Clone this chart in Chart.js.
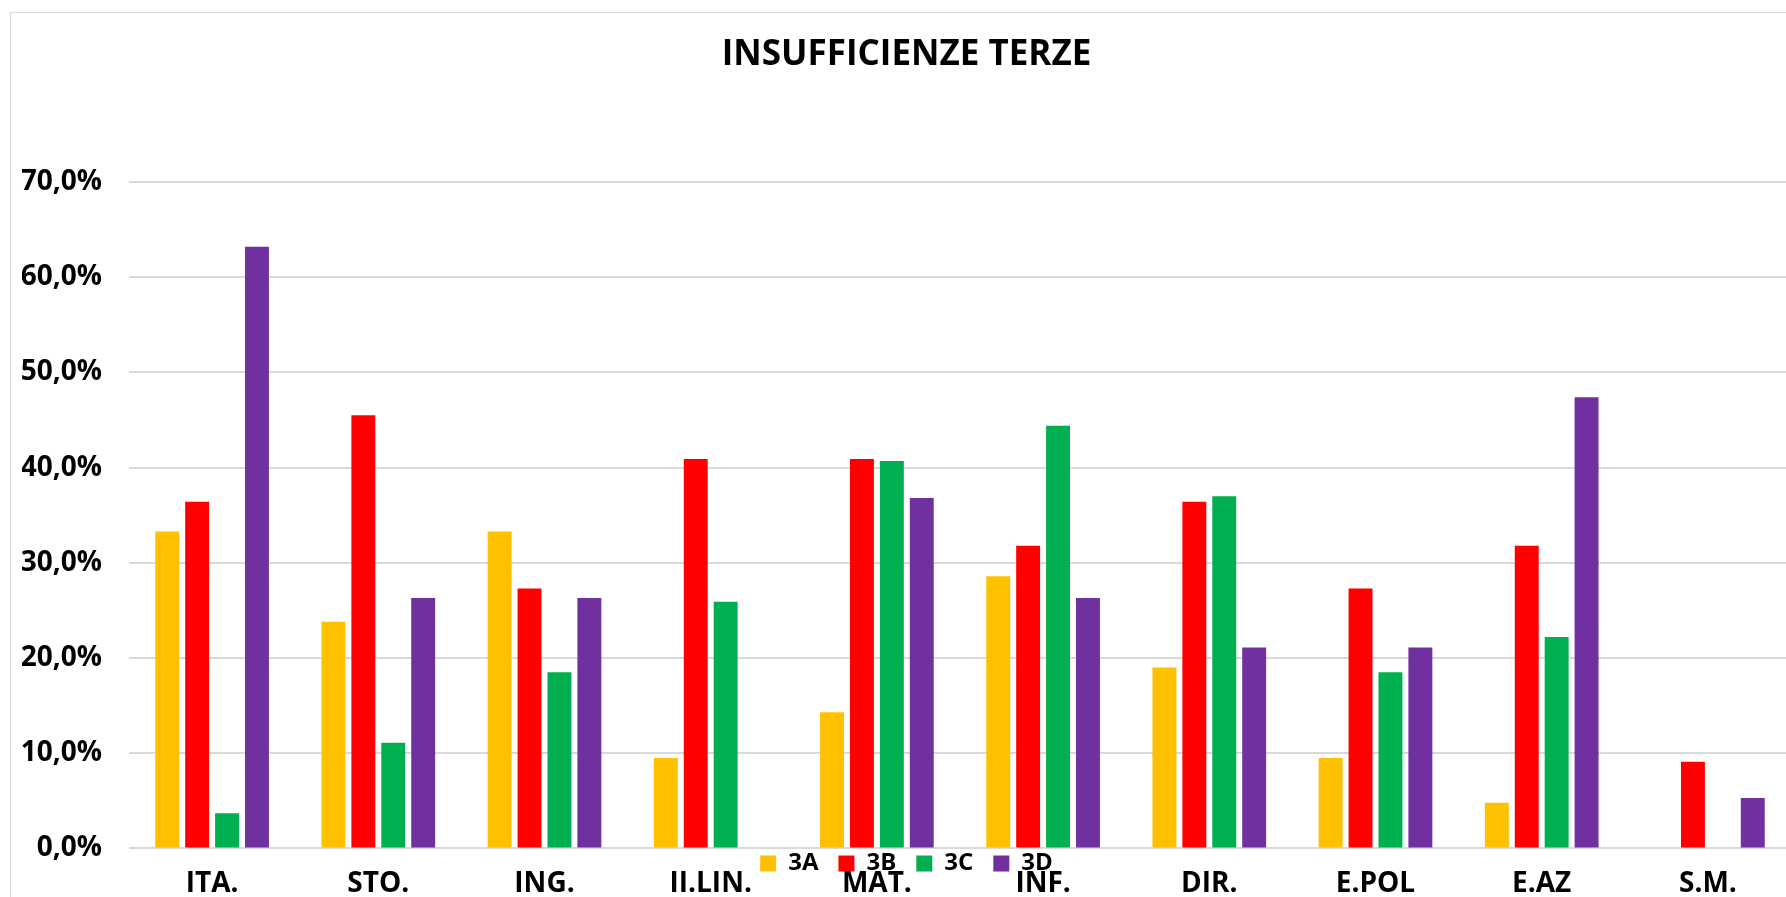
<!DOCTYPE html>
<html>
<head>
<meta charset="utf-8">
<script src="https://cdn.jsdelivr.net/npm/chart.js@4.4.1/dist/chart.umd.min.js"></script>
<style>
  body { margin: 0; background: #fff; overflow: hidden; }
  #riquadro { position: absolute; left: 10px; top: 12px; width: 1800px; height: 1000px; border: 1px solid #d9d9d9; }
</style>
</head>
<body>
<div id="riquadro"><canvas id="grafico" width="1800" height="953"></canvas></div>
<script>
// dati (percentuali di insufficienze per materia)
const materie = ['ITA.', 'STO.', 'ING.', 'II.LIN.', 'MAT.', 'INF.', 'DIR.', 'E.POL', 'E.AZ', 'S.M.'];
const classe3A = [33.3, 23.8, 33.3, 9.5, 14.3, 28.6, 19.0, 9.5, 4.8, 0];
const classe3B = [36.4, 45.5, 27.3, 40.9, 40.9, 31.8, 36.4, 27.3, 31.8, 9.1];
const classe3C = [3.7, 11.1, 18.5, 25.9, 40.7, 44.4, 37.0, 18.5, 22.2, 0];
const classe3D = [63.2, 26.3, 26.3, 0, 36.8, 26.3, 21.1, 21.1, 47.4, 5.3];
const tacche = [0, 10, 20, 30, 40, 50, 60, 70];

Chart.defaults.font.family = "'Open Sans', 'DejaVu Sans', sans-serif";
Chart.defaults.color = '#000';

// la legenda in Excel sta tra l'asse e le etichette: la spostiamo in su
const spostaLegenda = {
  id: 'spostaLegenda',
  afterLayout(chart) {
    const leg = chart.legend;
    const h = leg.height;
    leg.top = chart.chartArea.bottom - 17;
    leg.bottom = leg.top + h;
  }
};

function serie(nome, valori, colore) {
  return {
    label: nome,
    data: valori,
    backgroundColor: colore,
    borderWidth: 0,
    barPercentage: 0.8,
    categoryPercentage: 0.72
  };
}

new Chart(document.getElementById('grafico'), {
  type: 'bar',
  data: {
    labels: materie,
    datasets: [
      serie('3A', classe3A, '#FFC000'),
      serie('3B', classe3B, '#FF0000'),
      serie('3C', classe3C, '#00B050'),
      serie('3D', classe3D, '#7030A0')
    ]
  },
  plugins: [spostaLegenda],
  options: {
    responsive: false,
    animation: false,
    layout: { padding: { left: 11, right: 20, top: 0, bottom: 0 } },
    plugins: {
      title: {
        display: true,
        text: 'INSUFFICIENZE TERZE',
        font: { size: 35, weight: 'bold' },
        padding: { top: 21, bottom: 106 }
      },
      legend: {
        position: 'bottom',
        labels: {
          boxWidth: 16,
          boxHeight: 16,
          padding: 20,
          font: { size: 24, weight: 'bold' }
        }
      },
      tooltip: { enabled: false }
    },
    scales: {
      x: {
        grid: { display: false },
        border: { display: false },
        ticks: { padding: 11, font: { size: 28, weight: 'bold' } }
      },
      y: {
        min: 0,
        max: 70,
        afterFit: (s) => { s.width = 107; },
        afterBuildTicks: (s) => { s.ticks = tacche.map(v => ({ value: v })); },
        grid: { color: '#d9d9d9', lineWidth: 2, drawTicks: false },
        border: { display: false },
        ticks: {
          padding: 27,
          font: { size: 28, weight: 'bold' },
          callback: (v) => v.toFixed(1).replace('.', ',') + '%'
        }
      }
    }
  }
});
</script>
</body>
</html>
